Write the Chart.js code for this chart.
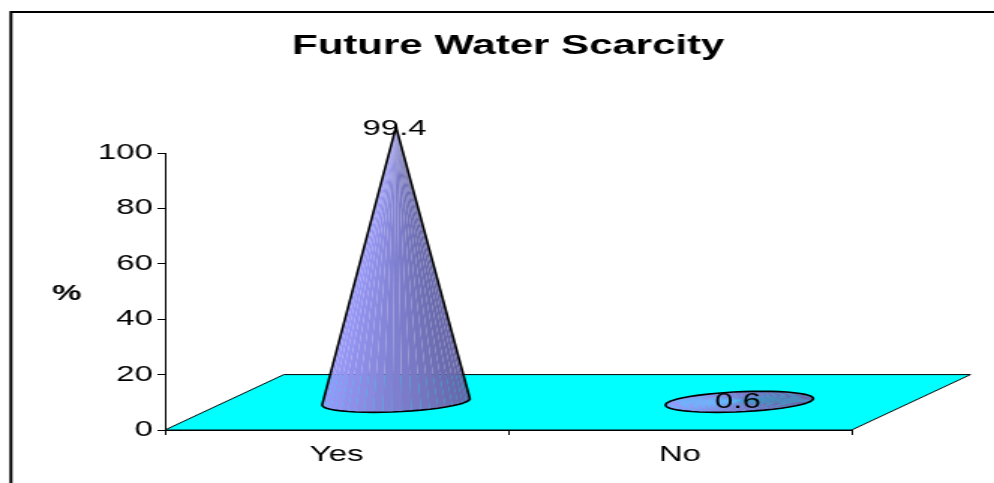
<!DOCTYPE html>
<html>
<head>
<meta charset="utf-8">
<title>Future Water Scarcity</title>
<script src="https://cdn.jsdelivr.net/npm/chart.js@4"></script>
<style>
  html, body { margin: 0; padding: 0; background: #fff; overflow: hidden; }
  canvas { display: block; }
</style>
</head>
<body>
<canvas id="myChart" width="663" height="483" style="width:994px;height:483px"></canvas>
<script>
const categorias = ['Yes', 'No'];
const valores = [99.4, 0.6];
const rotulos = ['99.4', '0.6'];
const tituloEixoY = '%';

const fonte = '"Liberation Sans", Arial, sans-serif';
const profundidadeX = 79.3;  // side shift of the floor
const raioProfundidade = 0.19;  // cone radius along the depth axis

// base of a cone, t going round the skewed ellipse on the floor
function pontoBase(c, rx, dy, t) {
    return {
        x: c.x + rx * Math.cos(t) + raioProfundidade * profundidadeX * Math.sin(t),
        y: c.y + raioProfundidade * dy * Math.sin(t)
    };
}

const cena3d = {
    id: 'cena3d',
    beforeDraw(chart) {
        const ctx = chart.ctx;
        const x = chart.scales.x;
        const y = chart.scales.y;
        const dy = y.getPixelForValue(20) - y.getPixelForValue(0);

        // frame
        ctx.save();
        ctx.strokeStyle = '#000';
        ctx.lineWidth = 2;
        ctx.strokeRect(7.3, 12, 680, 500);

        // floor
        ctx.beginPath();
        ctx.moveTo(x.left, y.bottom);
        ctx.lineTo(x.left + profundidadeX, y.bottom + dy);
        ctx.lineTo(x.right + profundidadeX, y.bottom + dy);
        ctx.lineTo(x.right, y.bottom);
        ctx.closePath();
        ctx.fillStyle = '#00ffff';
        ctx.fill();
        ctx.strokeStyle = '#000';
        ctx.lineWidth = 1;
        ctx.stroke();
        ctx.restore();
    },
    afterDatasetsDraw(chart) {
        const ctx = chart.ctx;
        const y = chart.scales.y;
        const dy = y.getPixelForValue(20) - y.getPixelForValue(0);
        const barras = chart.getDatasetMeta(0).data;

        barras.forEach(function (barra) {
            const c = { x: barra.x + profundidadeX / 2, y: barra.base + dy / 2 };
            const topo = { x: c.x, y: barra.y + dy / 2 };
            const rx = barra.width / 2;
            const passos = 48;
            const pontos = [];
            for (let i = 0; i < passos; i++) {
                pontos.push(pontoBase(c, rx, dy, (i / passos) * Math.PI * 2));
            }

            // a tall cone only shows its front, between the two tangent points
            const alto = topo.y < c.y - Math.abs(raioProfundidade * dy) - 1;
            let esq = 0, dir = 0;
            if (alto) {
                let angEsq = -Infinity, angDir = Infinity;
                pontos.forEach(function (p, i) {
                    const ang = Math.atan2(topo.x - p.x, p.y - topo.y);
                    if (ang > angEsq) { angEsq = ang; esq = i; }
                    if (ang < angDir) { angDir = ang; dir = i; }
                });
            }
            const frente = [];
            if (alto) {
                for (let i = esq; i !== dir; i = (i + 1) % passos) frente.push(pontos[i]);
                frente.push(pontos[dir]);
            } else {
                pontos.forEach(function (p) { frente.push(p); });
                frente.push(pontos[0]);
            }

            // fan of facets, lighter on the left; the seams between them stay visible
            ctx.save();
            for (let i = 0; i < frente.length - 1; i++) {
                const a = frente[i];
                const b = frente[i + 1];
                const f = Math.min(1, Math.max(0, ((a.x + b.x) / 2 - c.x + rx) / (2 * rx)));
                const r = Math.round(152 - 50 * f);
                const g = Math.round(152 - 50 * f);
                const bl = Math.round(248 - 80 * f);
                ctx.beginPath();
                ctx.moveTo(topo.x, topo.y);
                ctx.lineTo(a.x, a.y);
                ctx.lineTo(b.x, b.y);
                ctx.closePath();
                ctx.fillStyle = 'rgb(' + r + ',' + g + ',' + bl + ')';
                ctx.fill();
            }

            // silhouette
            ctx.strokeStyle = '#000';
            ctx.lineWidth = 1.6;
            ctx.lineJoin = 'round';
            ctx.beginPath();
            if (alto) ctx.moveTo(topo.x, topo.y);
            frente.forEach(function (p, i) {
                if (i === 0 && !alto) ctx.moveTo(p.x, p.y); else ctx.lineTo(p.x, p.y);
            });
            ctx.closePath();
            ctx.stroke();
            ctx.restore();
        });

        // value labels at the cone tips
        ctx.save();
        ctx.fillStyle = '#000';
        ctx.font = '22px ' + fonte;
        ctx.textAlign = 'center';
        ctx.textBaseline = 'middle';
        barras.forEach(function (barra, i) {
            ctx.fillText(rotulos[i], barra.x + profundidadeX / 2 - 1, barra.y + dy / 2 + 1.5);
        });

        // y axis title stays horizontal
        ctx.font = 'bold 22px ' + fonte;
        ctx.fillText(tituloEixoY, 44.5, (y.top + y.bottom) / 2 + 2);
        ctx.restore();
    }
};

new Chart(document.getElementById('myChart'), {
    type: 'bar',
    data: {
        labels: categorias,
        datasets: [{
            data: valores,
            backgroundColor: 'transparent',
            borderWidth: 0,
            barPercentage: 0.41,
            categoryPercentage: 1
        }]
    },
    options: {
        responsive: false,
        animation: false,
        layout: { padding: { left: 0, right: 95, top: 0, bottom: 0 } },
        scales: {
            x: {
                grid: { drawOnChartArea: false, color: '#000', tickLength: 5 },
                border: { color: '#000' },
                ticks: { color: '#000', font: { family: fonte, size: 22 }, padding: 7 },
                afterFit(scale) { scale.height = 53; }
            },
            y: {
                min: 0,
                max: 100,
                grid: { drawOnChartArea: false, color: '#000', tickLength: 5 },
                border: { color: '#000' },
                ticks: { stepSize: 20, color: '#000', font: { family: fonte, size: 22 }, padding: 3 },
                afterFit(scale) { scale.width = 110; }
            }
        },
        plugins: {
            legend: { display: false },
            tooltip: { enabled: false },
            title: {
                display: true,
                text: 'Future Water Scarcity',
                fullSize: false,
                color: '#000',
                font: { family: fonte, size: 28, weight: 'bold', lineHeight: 1.2 },
                padding: { top: 29.5, bottom: 89.9 }
            }
        }
    },
    plugins: [cena3d]
});
</script>
</body>
</html>
